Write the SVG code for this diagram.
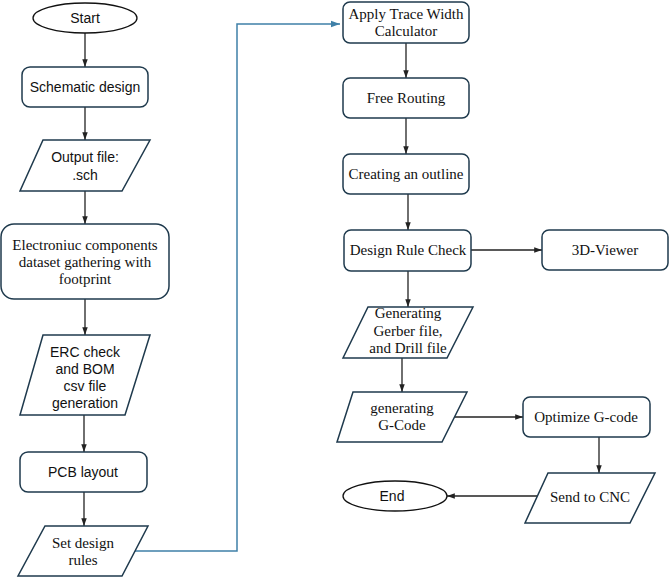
<svg xmlns="http://www.w3.org/2000/svg" width="669" height="577" viewBox="0 0 669 577">
<defs>
<style>
.n{fill:#fff;stroke:#1f3a4d;stroke-width:1.5}
.e{fill:#fff;stroke:#111;stroke-width:1.3}
.c{fill:none;stroke:#222;stroke-width:1.3}
.b{fill:none;stroke:#3f80a8;stroke-width:1.5}
.s{font-family:"Liberation Sans",Arial,sans-serif;font-size:14px;fill:#111;text-anchor:middle}
.t{font-family:"Liberation Serif","Times New Roman",serif;font-size:15px;fill:#111;text-anchor:middle}
</style>
<marker id="ah" viewBox="0 0 10 10" refX="10" refY="5" markerWidth="6" markerHeight="6" orient="auto"><path d="M0,1.5 L10,5 L0,8.5 z" fill="#222"/></marker>
<marker id="bh" viewBox="0 0 10 10" refX="10" refY="5" markerWidth="6" markerHeight="6" orient="auto"><path d="M0,1.5 L10,5 L0,8.5 z" fill="#3f80a8"/></marker>
</defs>
<rect width="669" height="577" fill="#fff"/>
<g id="connectors">
<path class="c" d="M85,32 V67" marker-end="url(#ah)"/>
<path class="c" d="M85,107 V140" marker-end="url(#ah)"/>
<path class="c" d="M85,191 V224" marker-end="url(#ah)"/>
<path class="c" d="M85,299 V335" marker-end="url(#ah)"/>
<path class="c" d="M84,415 V452" marker-end="url(#ah)"/>
<path class="c" d="M84,492 V526" marker-end="url(#ah)"/>
<path class="b" d="M135,551 H237 V24 H340" marker-end="url(#bh)"/>
<path class="c" d="M406,43 V78" marker-end="url(#ah)"/>
<path class="c" d="M406,118 V154" marker-end="url(#ah)"/>
<path class="c" d="M408,194 V230" marker-end="url(#ah)"/>
<path class="c" d="M471,250 H542" marker-end="url(#ah)"/>
<path class="c" d="M408,271 V307" marker-end="url(#ah)"/>
<path class="c" d="M402,358 V392" marker-end="url(#ah)"/>
<path class="c" d="M453,417 H523" marker-end="url(#ah)"/>
<path class="c" d="M599,437 V473" marker-end="url(#ah)"/>
<path class="c" d="M545,496 H447" marker-end="url(#ah)"/>
</g>
<g id="start"><ellipse class="e" cx="85" cy="18" rx="52" ry="15"/><text class="s" x="85" y="23">Start</text></g>
<g id="schematic"><rect class="n" x="22" y="67" width="126" height="40" rx="8"/><text class="s" x="85" y="92">Schematic design</text></g>
<g id="output"><path class="n" d="M43,140 H150 L122,191 H20 Z"/><text class="s" x="85" y="162">Output file:</text><text class="s" x="85" y="180">.sch</text></g>
<g id="components"><rect class="n" x="1" y="224" width="168" height="75" rx="13"/><text class="t" x="85" y="250">Electroniuc components</text><text class="t" x="85" y="267">dataset gathering with</text><text class="t" x="85" y="284">footprint</text></g>
<g id="erc"><path class="n" d="M43,335 H150 L125,415 H20 Z"/><text class="s" x="85" y="357">ERC check</text><text class="s" x="85" y="374">and BOM</text><text class="s" x="85" y="391">csv file</text><text class="s" x="85" y="408">generation</text></g>
<g id="pcb"><rect class="n" x="20" y="452" width="127" height="40" rx="8"/><text class="s" x="83" y="477">PCB layout</text></g>
<g id="rules"><path class="n" d="M45,526 H148 L122,576 H18 Z"/><text class="t" x="83" y="548">Set design</text><text class="t" x="83" y="565">rules</text></g>
<g id="trace"><rect class="n" x="343" y="2" width="126" height="41" rx="7"/><text class="t" x="406" y="19">Apply  Trace Width</text><text class="t" x="406" y="36">Calculator</text></g>
<g id="routing"><rect class="n" x="343" y="78" width="126" height="40" rx="7"/><text class="t" x="406" y="103">Free Routing</text></g>
<g id="outline"><rect class="n" x="343" y="154" width="126" height="40" rx="7"/><text class="t" x="406" y="179">Creating an outline</text></g>
<g id="drc"><rect class="n" x="344" y="230" width="127" height="41" rx="7"/><text class="t" x="408" y="255">Design Rule Check</text></g>
<g id="viewer"><rect class="n" x="542" y="230" width="126" height="40" rx="7"/><text class="t" x="605" y="255">3D-Viewer</text></g>
<g id="gerber"><path class="n" d="M368,307 H473 L447,358 H343 Z"/><text class="t" x="408" y="318">Generating</text><text class="t" x="408" y="336">Gerber file,</text><text class="t" x="408" y="353">and Drill file</text></g>
<g id="gcode"><path class="n" d="M353,392 H467 L442,442 H337 Z"/><text class="t" x="402" y="413">generating</text><text class="t" x="402" y="430">G-Code</text></g>
<g id="optimize"><rect class="n" x="523" y="397" width="127" height="40" rx="7"/><text class="t" x="586" y="422">Optimize G-code</text></g>
<g id="send"><path class="n" d="M548,473 H655 L630,523 H525 Z"/><text class="t" x="590" y="502">Send to CNC</text></g>
<g id="end"><ellipse class="e" cx="395" cy="496" rx="52" ry="15"/><text class="s" x="392" y="501">End</text></g>
</svg>
